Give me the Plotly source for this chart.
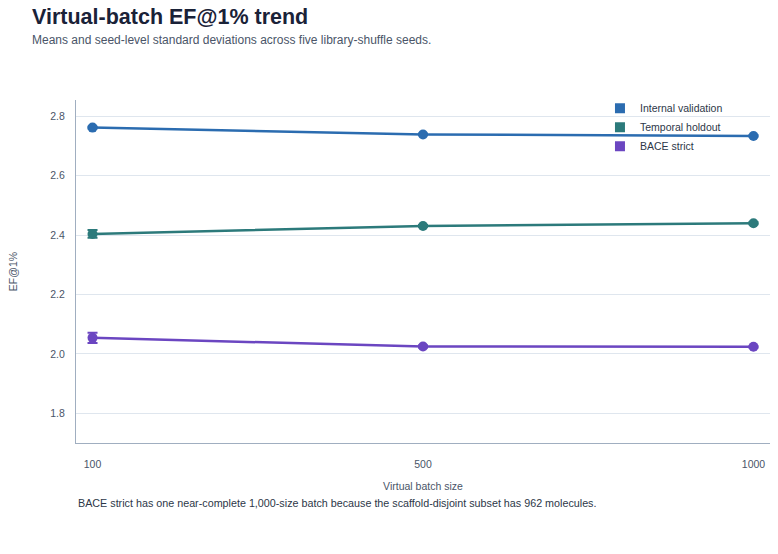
import plotly.graph_objects as go

batch_sizes = ["100", "500", "1000"]
internal_mean = [2.762, 2.739, 2.734]
internal_sd = [0.003, 0.002, 0.002]
temporal_mean = [2.404, 2.431, 2.440]
temporal_sd = [0.013, 0.003, 0.003]
bace_mean = [2.054, 2.025, 2.024]
bace_sd = [0.017, 0.003, 0.002]

series = [
    ("Internal validation", internal_mean, internal_sd, "#2b6cb0"),
    ("Temporal holdout", temporal_mean, temporal_sd, "#2c7a7b"),
    ("BACE strict", bace_mean, bace_sd, "#6b46c1"),
]

fig = go.Figure()
for name, m, sd, c in series:
    fig.add_trace(go.Scatter(
        x=batch_sizes, y=m, mode="lines+markers", name=name, showlegend=False,
        line=dict(color=c, width=2.5), marker=dict(color=c, size=10),
        error_y=dict(type="data", array=sd, visible=True, color=c, thickness=2, width=5),
    ))
for name, m, sd, c in series:
    fig.add_trace(go.Scatter(
        x=[None], y=[None], mode="markers", name=name,
        marker=dict(color=c, size=10, symbol="square"),
    ))

fig.update_layout(
    width=778, height=554,
    margin=dict(l=76, r=8, t=100, b=111),
    paper_bgcolor="white", plot_bgcolor="white",
    font=dict(family="Liberation Sans, Arial, sans-serif", color="#4a5568", size=10),
    legend=dict(x=0.755, y=1.018, xanchor="left", yanchor="top", bgcolor="rgba(0,0,0,0)",
                font=dict(size=10.5, color="#2d3748"), tracegroupgap=0, itemwidth=30),
    xaxis=dict(
        type="category", range=[-0.05, 2.05], showgrid=False,
        showline=True, linecolor="#a0aec0", linewidth=1,
        ticks="outside", ticklen=11, tickcolor="rgba(0,0,0,0)",
        title=dict(text="Virtual batch size", font=dict(size=10.5, color="#4a5568"), standoff=14),
        tickfont=dict(size=10.5, color="#4a5568"),
    ),
    yaxis=dict(
        range=[1.70, 2.855], dtick=0.2, tick0=1.8, showgrid=True, gridcolor="#dfe6ee",
        showline=True, linecolor="#a0aec0", linewidth=1, zeroline=False,
        ticks="outside", ticklen=8, tickcolor="rgba(0,0,0,0)",
        tickformat=".1f",
        title=dict(text="EF@1%", font=dict(size=10.5, color="#4a5568"), standoff=30),
        tickfont=dict(size=10.5, color="#4a5568"),
    ),
    annotations=[
        dict(text="<b>Virtual-batch EF@1% trend</b>", x=-0.066, xref="paper", y=1.242, yref="paper",
             xanchor="left", yanchor="middle", showarrow=False,
             font=dict(size=21.5, color="#1a2238")),
        dict(text="Means and seed-level standard deviations across five library-shuffle seeds.",
             x=-0.066, xref="paper", y=1.175, yref="paper", xanchor="left", yanchor="middle",
             showarrow=False, font=dict(size=12, color="#4a5568")),
        dict(text="BACE strict has one near-complete 1,000-size batch because the scaffold-disjoint subset has 962 molecules.",
             x=0, xref="paper", y=-0.175, yref="paper", xanchor="left", yanchor="middle",
             showarrow=False, font=dict(size=10.75, color="#2d3748")),
    ],
)

fig.write_html("out.html")
